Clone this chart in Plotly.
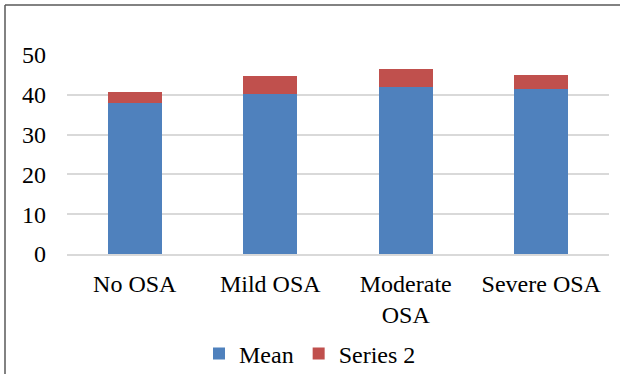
import plotly.graph_objects as go

categories = ["No OSA", "Mild OSA", "Moderate<br>OSA", "Severe OSA"]
mean_values = [37.9, 40.3, 41.9, 41.6]
series2_values = [2.7, 4.4, 4.5, 3.3]
y_ticks = [0, 10, 20, 30, 40, 50]

font_family = "Liberation Serif"
grid_color = "#d9d9d9"
frame_color = "#595959"

# plot area in pixels
W, H = 620, 374
L, R, T, B = 67, 11, 55, 120
pw, ph = W - L - R, H - T - B

fig = go.Figure()
fig.add_trace(go.Bar(x=categories, y=mean_values, name="Mean",
                     marker=dict(color="#4f81bd", line=dict(width=0))))
fig.add_trace(go.Bar(x=categories, y=series2_values, name="Series 2",
                     marker=dict(color="#c0504d", line=dict(width=0))))

fig.update_layout(
    width=W, height=H,
    barmode="stack", bargap=0.6,
    paper_bgcolor="white", plot_bgcolor="white",
    margin=dict(l=L, r=R, t=T, b=B, autoexpand=False),
    font=dict(family=font_family, size=24, color="black"),
    showlegend=True,
    legend=dict(orientation="h", x=0.5, xanchor="center", xref="container",
                y=20 / H, yanchor="middle", yref="container",
                font=dict(family=font_family, size=24), itemwidth=30,
                traceorder="normal"),
    xaxis=dict(showgrid=False, showline=True, linecolor=grid_color, linewidth=1.5,
               tickfont=dict(family=font_family, size=24), ticklabelstandoff=7),
    yaxis=dict(range=[0, 50.02], tickvals=y_ticks, showgrid=True, gridcolor=grid_color,
               gridwidth=1.5, zeroline=False, showline=False,
               tickfont=dict(family=font_family, size=24), ticklabelstandoff=20),
)

# Chart frame: top and left edges
fx = (5 - L) / pw
fy = (H - 5 - B) / ph
fig.add_shape(type="line", xref="paper", yref="paper",
              x0=fx, x1=(W - L) / pw, y0=fy, y1=fy,
              line=dict(color=frame_color, width=1.5))
fig.add_shape(type="line", xref="paper", yref="paper",
              x0=fx, x1=fx, y0=fy, y1=-B / ph,
              line=dict(color=frame_color, width=1.5))

fig.write_html("out.html")
